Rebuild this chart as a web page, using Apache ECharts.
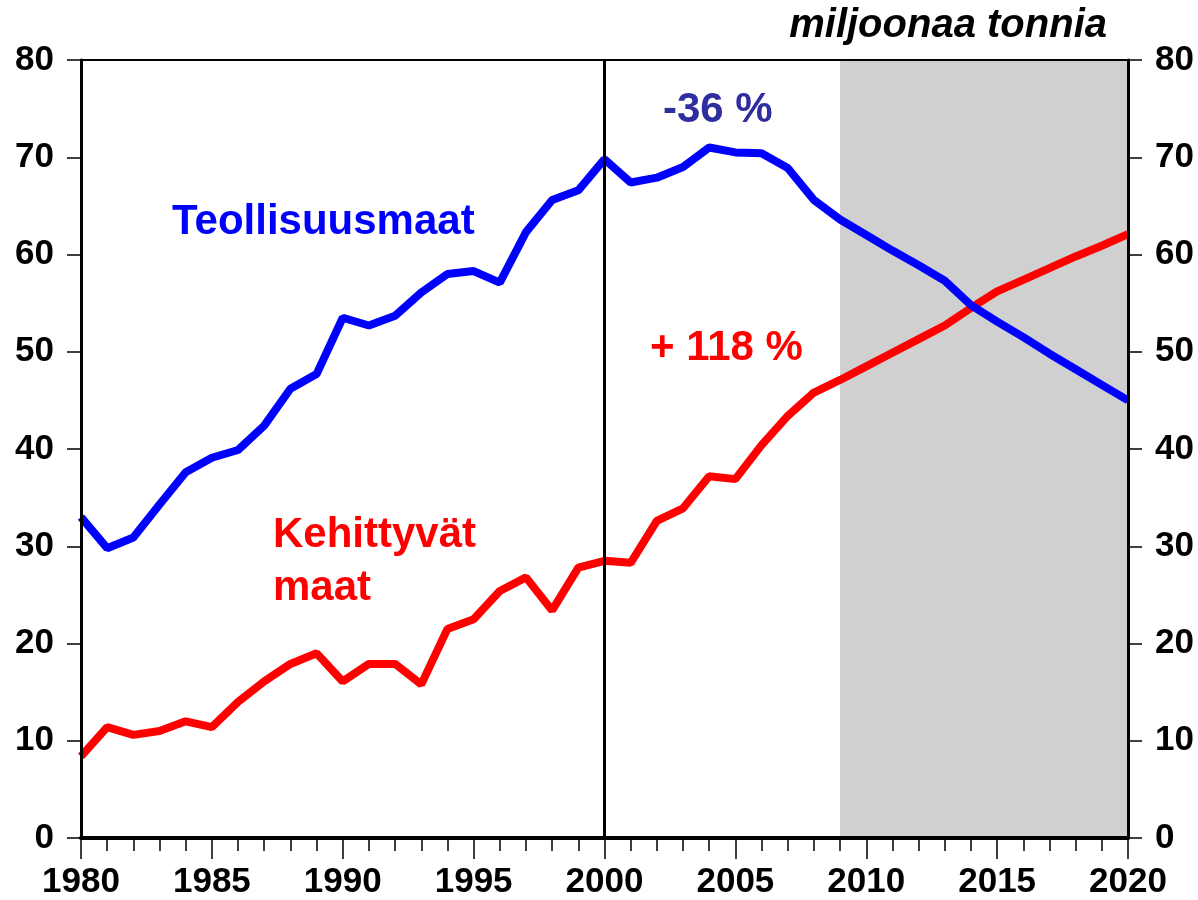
<!DOCTYPE html>
<html>
<head>
<meta charset="utf-8">
<script src="https://cdn.jsdelivr.net/npm/echarts@6/dist/echarts.min.js"></script>
<style>
  html, body { margin: 0; padding: 0; background: #fff; }
  #chart { width: 1198px; height: 900px; }
</style>
</head>
<body>
<div id="chart"></div>
<script>
// vuodet 1980-2020
var years = [];
for (var y = 1980; y <= 2020; y++) years.push(y);

// Teollisuusmaat (milj. tonnia)
var teollisuusmaat = [
  33.0, 29.8, 30.9, 34.3, 37.6, 39.1, 39.9, 42.4, 46.2, 47.7,
  53.5, 52.7, 53.7, 56.1, 58.0, 58.3, 57.1, 62.3, 65.6, 66.6,
  69.8, 67.4, 67.9, 69.0, 71.0, 70.5, 70.4, 68.9, 65.6, 63.6,
  62.0, 60.4, 58.9, 57.3, 54.8, 53.1, 51.5, 49.8, 48.2, 46.6,
  45.0
];

// Kehittyvät maat (milj. tonnia)
var kehittyvat = [
  8.4, 11.4, 10.6, 11.0, 12.0, 11.4, 14.0, 16.1, 17.9, 19.0,
  16.1, 17.9, 17.9, 15.8, 21.5, 22.5, 25.4, 26.8, 23.4, 27.8,
  28.5, 28.3, 32.6, 33.9, 37.2, 36.9, 40.4, 43.4, 45.8, 47.1,
  48.5, 49.9, 51.3, 52.7, 54.5, 56.2, 57.4, 58.6, 59.8, 60.9,
  62.1
];

var ennusteAlku = 2009;   // harmaa alue
var rajaVuosi = 2000;     // pystyviiva

var fontti = '"Liberation Sans", Arial, sans-serif';

var myChart = echarts.init(document.getElementById('chart'));

function pairs(arr) {
  return years.map(function (y, i) { return [y, arr[i]]; });
}

var yAxisBase = {
  type: 'value',
  min: 0,
  max: 80,
  interval: 10,
  z: 6,
  axisLine: { show: true, lineStyle: { color: '#000', width: 3 } },
  axisTick: { show: true, length: 14, lineStyle: { color: '#000', width: 1.5 } },
  axisLabel: { color: '#000', fontSize: 35, fontWeight: 'bold', fontFamily: fontti, margin: 27 },
  splitLine: { show: false }
};

var option = {
  backgroundColor: '#fff',
  animation: false,
  grid: {
    left: 81, right: 70, top: 60, bottom: 60, z: 6,
    show: true, borderColor: '#000', borderWidth: 2, backgroundColor: 'transparent'
  },
  xAxis: {
    type: 'value',
    min: 1980,
    max: 2020,
    interval: 5,
    z: 6,
    axisLine: { show: true, onZero: false, lineStyle: { color: '#000', width: 4 } },
    axisTick: { show: true, length: 21, lineStyle: { color: '#000', width: 1.5 } },
    minorTick: { show: true, splitNumber: 5, length: 13, lineStyle: { color: '#000', width: 1.5 } },
    axisLabel: {
      color: '#000', fontSize: 35, fontWeight: 'bold', fontFamily: fontti, margin: 27,
      formatter: function (v) { return String(v); }
    },
    splitLine: { show: false }
  },
  yAxis: [
    Object.assign({}, yAxisBase, { position: 'left' }),
    Object.assign({}, yAxisBase, { position: 'right' })
  ],
  series: [
    {
      name: 'Kehittyvät maat',
      type: 'line',
      data: pairs(kehittyvat),
      showSymbol: false,
      lineStyle: { color: '#ff0000', width: 8 },
      itemStyle: { color: '#ff0000' },
      z: 3,
      markArea: {
        silent: true,
        itemStyle: { color: '#d0d0d0' },
        data: [[{ xAxis: ennusteAlku }, { xAxis: 2020 }]]
      },
      markLine: {
        silent: true,
        symbol: 'none',
        label: { show: false },
        lineStyle: { color: '#000', width: 3, type: 'solid' },
        data: [{ xAxis: rajaVuosi }]
      }
    },
    {
      name: 'Teollisuusmaat',
      type: 'line',
      data: pairs(teollisuusmaat),
      showSymbol: false,
      lineStyle: { color: '#0000ff', width: 8 },
      itemStyle: { color: '#0000ff' },
      z: 4
    }
  ],
  graphic: [
    {
      type: 'text', x: 1107, y: 26,
      style: { text: 'miljoonaa tonnia', fill: '#000', font: 'italic bold 40px ' + fontti, align: 'right', verticalAlign: 'middle' }
    },
    {
      type: 'text', x: 172, y: 222,
      style: { text: 'Teollisuusmaat', fill: '#0000ff', font: 'bold 42px ' + fontti, align: 'left', verticalAlign: 'middle' }
    },
    {
      type: 'text', x: 273, y: 535,
      style: { text: 'Kehittyvät', fill: '#ff0000', font: 'bold 42px ' + fontti, align: 'left', verticalAlign: 'middle' }
    },
    {
      type: 'text', x: 273, y: 588,
      style: { text: 'maat', fill: '#ff0000', font: 'bold 42px ' + fontti, align: 'left', verticalAlign: 'middle' }
    },
    {
      type: 'text', x: 650, y: 348,
      style: { text: '+ 118 %', fill: '#ff0000', font: 'bold 42px ' + fontti, align: 'left', verticalAlign: 'middle' }
    },
    {
      type: 'text', x: 663, y: 110,
      style: { text: '-36 %', fill: '#2e2e9e', font: 'bold 42px ' + fontti, align: 'left', verticalAlign: 'middle' }
    }
  ]
};

myChart.setOption(option);
</script>
</body>
</html>
